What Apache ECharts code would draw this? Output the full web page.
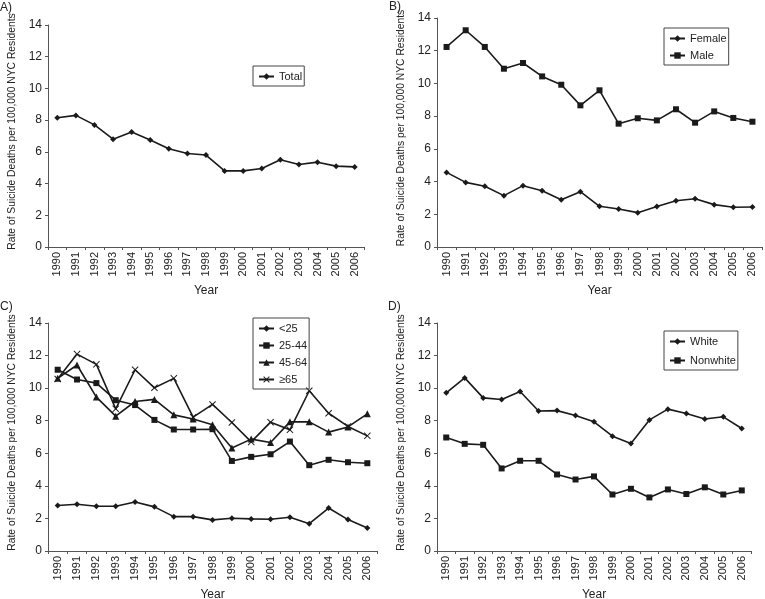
<!DOCTYPE html>
<html>
<head>
<meta charset="utf-8">
<script src="https://cdn.jsdelivr.net/npm/echarts@6/dist/echarts.min.js"></script>
<style>
html,body{margin:0;padding:0;background:#fff;}
#c{width:765px;height:599px;}
</style>
</head>
<body>
<div id="c"></div>
<script>
var years = ['1990','1991','1992','1993','1994','1995','1996','1997','1998','1999','2000','2001','2002','2003','2004','2005','2006'];
var yTicks = [0, 2, 4, 6, 8, 10, 12, 14];

var total = [8.15, 8.3, 7.7, 6.8, 7.25, 6.75, 6.2, 5.9, 5.8, 4.8, 4.8, 4.95, 5.5, 5.2, 5.35, 5.1, 5.05];

var female = [4.56, 3.95, 3.71, 3.14, 3.75, 3.44, 2.89, 3.38, 2.49, 2.32, 2.1, 2.47, 2.83, 2.95, 2.59, 2.43, 2.45];
var male = [12.23, 13.25, 12.23, 10.9, 11.25, 10.43, 9.92, 8.66, 9.58, 7.54, 7.87, 7.74, 8.42, 7.6, 8.29, 7.89, 7.66];

var ageLt25 = [2.79, 2.87, 2.75, 2.75, 3.01, 2.71, 2.11, 2.11, 1.91, 2.01, 1.97, 1.95, 2.07, 1.68, 2.64, 1.93, 1.41];
var age25_44 = [11.13, 10.53, 10.31, 9.26, 8.96, 8.05, 7.46, 7.46, 7.48, 5.53, 5.78, 5.94, 6.72, 5.27, 5.6, 5.45, 5.39];
var age45_64 = [10.6, 11.42, 9.45, 8.28, 9.18, 9.31, 8.36, 8.1, 7.75, 6.33, 6.87, 6.66, 7.93, 7.93, 7.3, 7.62, 8.42];
var age65plus = [10.56, 12.09, 11.46, 8.73, 11.13, 10.02, 10.6, 8.22, 9.0, 7.89, 6.7, 7.91, 7.44, 9.84, 8.46, 7.65, 7.07];

var white = [9.71, 10.63, 9.4, 9.3, 9.79, 8.6, 8.62, 8.32, 7.93, 7.05, 6.6, 8.05, 8.71, 8.44, 8.11, 8.24, 7.52];
var nonwhite = [6.97, 6.58, 6.52, 5.07, 5.54, 5.54, 4.7, 4.39, 4.58, 3.47, 3.82, 3.29, 3.78, 3.5, 3.91, 3.47, 3.72];

var panelLabels = ['A)', 'B)', 'C)', 'D)'];
var yName = 'Rate of Suicide Deaths per 100,000 NYC Residents';
var xName = 'Year';

var FONT = '"Liberation Sans", Arial, sans-serif';
var INK = '#1a1a1a';
var TXT = '#222';

var SYM_X = 'path://M0,1L1,0L5,4L9,0L10,1L6,5L10,9L9,10L5,6L1,10L0,9L4,5Z';

var grids = [
  {left: 48, top: 25, width: 316, height: 222, outerBoundsMode: 'none', containLabel: false},
  {left: 437, top: 18, width: 325, height: 229, outerBoundsMode: 'none', containLabel: false},
  {left: 48, top: 323, width: 329, height: 228, outerBoundsMode: 'none', containLabel: false},
  {left: 437, top: 323, width: 314, height: 228, outerBoundsMode: 'none', containLabel: false}
];

function xAxis(i) {
  return {
    type: 'category', gridIndex: i, data: years, boundaryGap: true,
    name: xName, nameLocation: 'middle', nameGap: 38,
    nameTextStyle: {fontFamily: FONT, fontSize: 12, color: TXT},
    axisLine: {lineStyle: {color: '#555', width: 1}},
    axisTick: {show: true, length: 3, lineStyle: {color: '#555'}},
    axisLabel: {rotate: 90, fontFamily: FONT, fontSize: 11, color: TXT, margin: 5, interval: 0},
    splitLine: {show: false}
  };
}
function yAxis(i) {
  return {
    type: 'value', gridIndex: i, min: yTicks[0], max: yTicks[yTicks.length - 1], interval: 2,
    name: yName, nameLocation: 'middle', nameGap: 31,
    nameTextStyle: {fontFamily: FONT, fontSize: 10.3, color: TXT, padding: [0, 0, 0, 9]},
    axisLine: {show: true, lineStyle: {color: '#555', width: 1}},
    axisTick: {show: true, length: 3, lineStyle: {color: '#555'}},
    axisLabel: {fontFamily: FONT, fontSize: 12, color: TXT, margin: 6},
    splitLine: {show: false}
  };
}
function line(name, data, i, symbol, size) {
  return {
    name: name, type: 'line', xAxisIndex: i, yAxisIndex: i, data: data,
    symbol: symbol, symbolSize: size, showSymbol: true,
    lineStyle: {color: INK, width: 1.6},
    itemStyle: {color: INK, borderWidth: 0},
    emphasis: {disabled: true},
    animation: false
  };
}
function legend(names, left, top, gap) {
  return {
    data: names, orient: 'vertical', left: left, top: top,
    padding: [5, 2, 4, 5], itemGap: gap, itemWidth: 15, itemHeight: 8,
    borderColor: '#444', borderWidth: 1, borderRadius: 0,
    textStyle: {fontFamily: FONT, fontSize: 11, color: TXT},
    selectedMode: false
  };
}

var chart = echarts.init(document.getElementById('c'), null, {renderer: 'canvas'});
chart.setOption({
  backgroundColor: '#fff',
  animation: false,
  grid: grids,
  xAxis: [xAxis(0), xAxis(1), xAxis(2), xAxis(3)],
  yAxis: [yAxis(0), yAxis(1), yAxis(2), yAxis(3)],
  legend: [
    legend(['Total'], 253, 66, 4),
    legend(['Female', 'Male'], 664, 28, 6),
    legend(['<25', '25-44', '45-64', '≥65'], 253, 318, 6),
    legend(['White', 'Nonwhite'], 664, 331, 8)
  ],
  series: [
    line('Total', total, 0, 'diamond', 6),
    line('Female', female, 1, 'diamond', 6),
    line('Male', male, 1, 'rect', 6),
    line('<25', ageLt25, 2, 'diamond', 6),
    line('25-44', age25_44, 2, 'rect', 6),
    line('45-64', age45_64, 2, 'triangle', 7),
    line('≥65', age65plus, 2, SYM_X, 7),
    line('White', white, 3, 'diamond', 6),
    line('Nonwhite', nonwhite, 3, 'rect', 6)
  ],
  graphic: [
    {type: 'text', left: 0, top: 2, style: {text: panelLabels[0], font: '12px ' + FONT, fill: TXT}},
    {type: 'text', left: 389, top: 1, style: {text: panelLabels[1], font: '12px ' + FONT, fill: TXT}},
    {type: 'text', left: 0, top: 301, style: {text: panelLabels[2], font: '12px ' + FONT, fill: TXT}},
    {type: 'text', left: 388, top: 301, style: {text: panelLabels[3], font: '12px ' + FONT, fill: TXT}}
  ]
});
</script>
</body>
</html>
